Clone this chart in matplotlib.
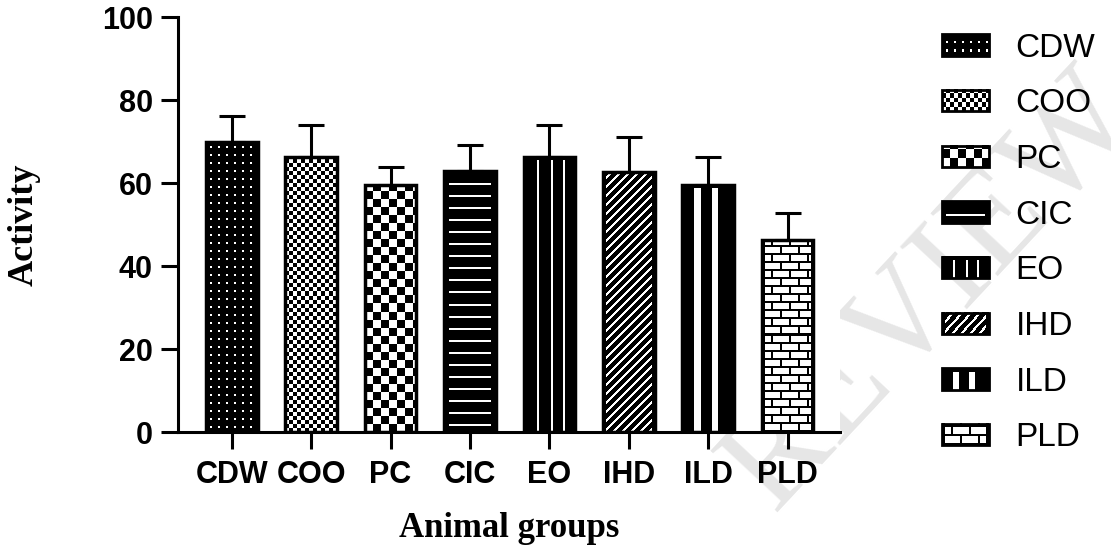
import numpy as np
import matplotlib
matplotlib.use("Agg")
import matplotlib.pyplot as plt
from matplotlib.legend_handler import HandlerBase
from matplotlib.image import BboxImage
from matplotlib.transforms import Bbox, TransformedBbox
from matplotlib.patches import Rectangle

groups = ["CDW", "COO", "PC", "CIC", "EO", "IHD", "ILD", "PLD"]
activity = [70.0, 66.3, 59.6, 62.9, 66.3, 62.8, 59.6, 46.3]
activity_err = [6.2, 7.7, 4.3, 6.4, 7.7, 8.4, 6.8, 6.4]
yticks = [0, 20, 40, 60, 80, 100]


# ---- fill textures (1 = black, 0 = white), row 0 at the bottom ----
def tex_dots(h, w):
    a = np.ones((h, w))
    for dy in (0, 1):
        for dx in (0, 1):
            a[4 + dy::8, 4 + dx::8] = 0
    return a


def tex_checker(h, w, s):
    yy, xx = np.indices((h, w))
    return ((yy // s + xx // s) % 2).astype(float)


def tex_hlines(h, w):
    a = np.ones((h, w))
    m = max(3, w // 10)
    for r in range(6, h - 4, 12):
        a[r:r + 2, m:w - m] = 0
    return a


def tex_vlines(h, w):
    a = np.ones((h, w))
    for f in (0.25, 0.52, 0.76):
        c = int(f * w)
        a[:h - 4, c:c + 2] = 0
    return a


def tex_diag(h, w):
    yy, xx = np.indices((h, w))
    a = np.where((xx - yy) % 9 < 3, 0.0, 1.0)
    a[:, :3] = 1
    a[:, w - 3:] = 1
    return a


def tex_wide(h, w):
    a = np.ones((h, w))
    for f0, f1 in ((0.24, 0.38), (0.58, 0.71)):
        a[:h - 4, int(f0 * w):int(f1 * w)] = 0
    return a


def tex_brick(h, w):
    a = np.zeros((h, w))
    yy, xx = np.indices((h, w))
    a[(yy % 8) < 2] = 1
    row = yy // 8
    shift = np.where(row % 2 == 0, 0, 9)
    a[((xx + shift) % 18) < 2] = 1
    a[:, :3] = 1
    a[:, w - 3:] = 1
    return a


textures = {
    "CDW": tex_dots,
    "COO": lambda h, w: tex_checker(h, w, 4),
    "PC": lambda h, w: tex_checker(h, w, 8),
    "CIC": tex_hlines,
    "EO": tex_vlines,
    "IHD": tex_diag,
    "ILD": tex_wide,
    "PLD": tex_brick,
}


def to_rgb(a):
    return np.stack([1 - a] * 3, axis=-1)


class TextureHandler(HandlerBase):
    def __init__(self, func):
        super().__init__()
        self.func = func

    def create_artists(self, legend, orig_handle, xdescent, ydescent,
                       width, height, fontsize, trans):
        bb = Bbox.from_bounds(-xdescent, -ydescent, width, height)
        img = BboxImage(TransformedBbox(bb, trans), interpolation="nearest")
        img.set_data(to_rgb(self.func(20, 47))[::-1])
        rect = Rectangle((-xdescent, -ydescent), width, height,
                         facecolor="none", edgecolor="black", linewidth=2,
                         transform=trans)
        return [img, rect]


fig = plt.figure(figsize=(11.11, 5.52), dpi=100)
ax = fig.add_axes([0.160, 0.217, 0.596, 0.752])

x = np.arange(len(groups))
bar_w = 0.65
ax.set_xlim(-0.68, 7.66)
ax.set_ylim(0, 100)

ax.errorbar(x, activity, yerr=[np.zeros(len(x)), activity_err], fmt="none",
            ecolor="black", elinewidth=2.2, capsize=9.5, capthick=2.2, zorder=1)
bars = ax.bar(x, activity, width=bar_w, facecolor="none", edgecolor="black",
              linewidth=2.5, zorder=3)

for name, xi, v, rect in zip(groups, x, activity, bars):
    p0 = ax.transData.transform((xi - bar_w / 2, 0))
    p1 = ax.transData.transform((xi + bar_w / 2, v))
    w_px = int(round(p1[0] - p0[0]))
    h_px = int(round(p1[1] - p0[1]))
    im = ax.imshow(to_rgb(textures[name](h_px, w_px)),
                   extent=(xi - bar_w / 2, xi + bar_w / 2, 0, v),
                   origin="lower", interpolation="nearest", aspect="auto",
                   zorder=2)
    im.set_clip_path(rect)

ax.set_xlim(-0.68, 7.66)
ax.set_ylim(0, 100)
ax.set_yticks(yticks)
ax.set_xticks(x)
ax.set_xticklabels(groups)

for s in ("top", "right"):
    ax.spines[s].set_visible(False)
for s in ("left", "bottom"):
    ax.spines[s].set_linewidth(2.2)

ax.tick_params(axis="y", length=12, width=2.2, pad=6)
ax.tick_params(axis="x", length=12, width=2.2, pad=8)
for lab in ax.get_yticklabels():
    lab.set_fontfamily("Liberation Sans")
    lab.set_fontweight("bold")
    lab.set_fontsize(22)
for lab in ax.get_xticklabels():
    lab.set_fontfamily("Liberation Sans")
    lab.set_fontweight("bold")
    lab.set_fontsize(22)

ax.set_ylabel("Activity", fontfamily="Liberation Serif", fontweight="bold",
              fontsize=26)
ax.yaxis.set_label_coords(-0.207, 0.5)
ax.set_xlabel("Animal groups", fontfamily="Liberation Serif",
              fontweight="bold", fontsize=25)
ax.xaxis.set_label_coords(0.5, -0.193)

handles = [Rectangle((0, 0), 1, 1) for _ in groups]
fig.legend(handles, groups,
           handler_map={h: TextureHandler(textures[g]) for h, g in zip(handles, groups)},
           loc="center left", bbox_to_anchor=(942 / 1111, 1 - 243 / 552),
           frameon=False, borderpad=0, borderaxespad=0,
           prop={"family": "Liberation Sans", "size": 24},
           handlelength=1.41, handleheight=0.6, handletextpad=0.8,
           labelspacing=0.74)

# light "REVIEW" watermark behind everything
fig.text(0.84, 0.47, "REVIEW", rotation=47, fontsize=100,
         fontfamily="Liberation Serif", color="#e6e6e6",
         ha="center", va="center", zorder=-10)

fig.savefig("out.png", dpi=100)
